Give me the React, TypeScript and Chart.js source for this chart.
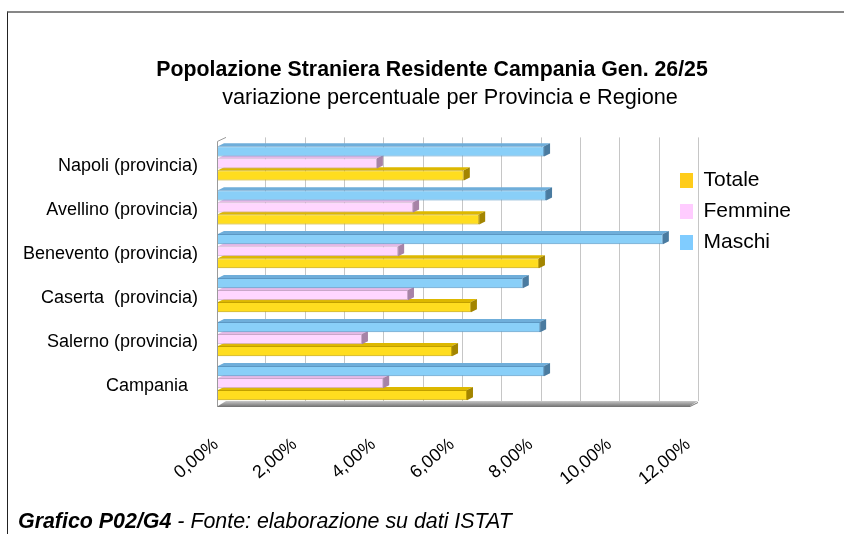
import React, { useEffect, useRef } from 'react';
import { Chart, registerables } from 'chart.js';

Chart.register(...registerables);

// ---------- data ----------
const categories = [
  'Napoli (provincia)',
  'Avellino (provincia)',
  'Benevento (provincia)',
  'Caserta  (provincia)',
  'Salerno (provincia)',
  'Campania  ',
];
const seriesNames = ['Maschi', 'Femmine', 'Totale'];
const maschi = [8.29, 8.34, 11.31, 7.75, 8.19, 8.29];
const femmine = [4.04, 4.96, 4.58, 4.83, 3.66, 4.2];
const totale = [6.25, 6.64, 8.16, 6.43, 5.95, 6.33];
const xTickValues = [0, 2, 4, 6, 8, 10, 12];
const xTickLabels = ['0,00%', '2,00%', '4,00%', '6,00%', '8,00%', '10,00%', '12,00%'];

const titleText = 'Popolazione Straniera Residente Campania Gen. 26/25';
const subtitleText = 'variazione percentuale per Provincia e Regione';
const captionBold = 'Grafico P02/G4';
const captionRest = ' - Fonte: elaborazione su dati ISTAT';

// ---------- styles ----------
const FONT = "'Liberation Sans', Arial, Helvetica, sans-serif";
const styles = [
  { front: '#89CFF8', border: '#5C98C4', top: '#6FAEDA', cap: '#4A7BA0', legend: '#80CCFF' },
  { front: '#FFD6FF', border: '#C9A6C9', top: '#E6B9E6', cap: '#A783A7', legend: '#FFCCFF' },
  { front: '#FFDD1F', border: '#C2A000', top: '#DDB800', cap: '#A38500', legend: '#FFCC1A' },
];
const WALL_DX = 8;
const WALL_DY = -4;
const BAR_DX = 6;
const BAR_DY = -3;
const TITLE_CX = 432;
const SUBTITLE_CX = 450;
const LEGEND_LEFT = 670;
const LEGEND_TOP = 160;

const threeD = {
  id: 'threeD',
  afterLayout(chart: any) {
    const tb = chart.titleBlock;
    if (tb) {
      const w = tb.right - tb.left;
      tb.left = TITLE_CX - w / 2;
      tb.right = TITLE_CX + w / 2;
      const sub = chart.boxes.find(
        (b: any) => b !== tb && b.constructor === tb.constructor
      );
      if (sub) {
        const sw = sub.right - sub.left;
        sub.left = SUBTITLE_CX - sw / 2;
        sub.right = SUBTITLE_CX + sw / 2;
      }
    }
    const lg = chart.legend;
    if (lg) {
      lg.left = LEGEND_LEFT;
      lg.right = LEGEND_LEFT + 160;
      lg.top = LEGEND_TOP;
      lg.bottom = LEGEND_TOP + 200;
    }
  },
  beforeDatasetsDraw(chart: any) {
    const { ctx, chartArea: a, scales } = chart;
    const x = scales.x;
    ctx.save();
    // floor
    const g = ctx.createLinearGradient(0, a.bottom + WALL_DY, 0, a.bottom + 1);
    g.addColorStop(0, '#c8c8c8');
    g.addColorStop(1, '#7e7e7e');
    ctx.fillStyle = g;
    ctx.beginPath();
    ctx.moveTo(a.left, a.bottom + 1);
    ctx.lineTo(a.right, a.bottom + 1);
    ctx.lineTo(a.right + WALL_DX, a.bottom + WALL_DY);
    ctx.lineTo(a.left + WALL_DX, a.bottom + WALL_DY);
    ctx.closePath();
    ctx.fill();
    ctx.strokeStyle = '#777';
    ctx.lineWidth = 1;
    ctx.beginPath();
    ctx.moveTo(a.left, a.bottom + 1.5);
    ctx.lineTo(a.right, a.bottom + 1.5);
    ctx.lineTo(a.right + WALL_DX, a.bottom + WALL_DY + 1.5);
    ctx.stroke();
    // back wall grid lines
    ctx.strokeStyle = '#c6c6c6';
    x.ticks.forEach((t: any) => {
      if (t.value === x.min) return;
      const px = Math.round(x.getPixelForValue(t.value) + WALL_DX) + 0.5;
      ctx.beginPath();
      ctx.moveTo(px, a.top + WALL_DY);
      ctx.lineTo(px, a.bottom + WALL_DY);
      ctx.stroke();
    });
    // left wall
    ctx.strokeStyle = '#9a9a9a';
    ctx.beginPath();
    ctx.moveTo(a.left + WALL_DX, a.top + WALL_DY);
    ctx.lineTo(Math.round(a.left) - 0.5, a.top);
    ctx.lineTo(Math.round(a.left) - 0.5, a.bottom + 2);
    ctx.stroke();
    ctx.restore();
  },
  afterDatasetDraw(chart: any, args: any) {
    const { ctx } = chart;
    const st = styles[args.index];
    ctx.save();
    args.meta.data.forEach((el: any) => {
      const { x, y, base, height } = el.getProps(['x', 'y', 'base', 'height'], true);
      const top = y - height / 2;
      const bottom = y + height / 2;
      ctx.fillStyle = st.top;
      ctx.beginPath();
      ctx.moveTo(base, top);
      ctx.lineTo(base + BAR_DX, top + BAR_DY);
      ctx.lineTo(x + BAR_DX, top + BAR_DY);
      ctx.lineTo(x, top);
      ctx.closePath();
      ctx.fill();
      ctx.fillStyle = st.cap;
      ctx.beginPath();
      ctx.moveTo(x, top);
      ctx.lineTo(x + BAR_DX, top + BAR_DY);
      ctx.lineTo(x + BAR_DX, bottom + BAR_DY);
      ctx.lineTo(x, bottom);
      ctx.closePath();
      ctx.fill();
    });
    ctx.restore();
  },
};

export default function App() {
  const ref = useRef<HTMLCanvasElement | null>(null);

  useEffect(() => {
    if (!ref.current) return;
    Chart.defaults.font.family = FONT;
    Chart.defaults.color = '#000';
    const values = [maschi, femmine, totale];
    const chart = new Chart(ref.current, {
      type: 'bar',
      data: {
        labels: categories,
        datasets: seriesNames.map((name, i) => ({
          label: name,
          data: values[i],
          backgroundColor: styles[i].front,
          borderColor: styles[i].border,
          borderWidth: 1,
          borderSkipped: 'start',
          categoryPercentage: 0.82,
          barPercentage: 0.85,
        })),
      },
      options: {
        indexAxis: 'y',
        animation: false,
        responsive: false,
        devicePixelRatio: 1,
        events: [],
        layout: { padding: { left: 0, right: 154, top: 0, bottom: 0 } },
        scales: {
          x: {
            type: 'linear',
            min: 0,
            max: 12,
            position: 'bottom',
            grid: { display: false, drawTicks: false },
            border: { display: false },
            ticks: {
              stepSize: 1,
              autoSkip: false,
              minRotation: 40,
              maxRotation: 40,
              padding: 29,
              labelOffset: -2,
              color: '#000',
              font: { size: 18, family: FONT },
              callback: (v: any) => {
                const i = xTickValues.indexOf(Number(v));
                return i >= 0 ? xTickLabels[i] : '';
              },
            },
            afterFit: (s: any) => {
              s.height = 129;
            },
          },
          y: {
            type: 'category',
            position: 'left',
            grid: { display: false, drawTicks: false },
            border: { display: false },
            ticks: {
              padding: 20,
              labelOffset: 3,
              color: '#000',
              font: { size: 18, family: FONT },
            },
            afterFit: (s: any) => {
              s.width = 218;
            },
          },
        },
        plugins: {
          tooltip: { enabled: false },
          title: {
            display: true,
            text: titleText,
            color: '#000',
            font: { size: 21.3, weight: 'bold', family: FONT },
            padding: { top: 57.6, bottom: 0 },
          },
          subtitle: {
            display: true,
            text: subtitleText,
            color: '#000',
            font: { size: 21.7, weight: 'normal', family: FONT },
            padding: { top: 2, bottom: 30.2 },
          },
          legend: {
            display: true,
            position: 'chartArea',
            align: 'start',
            reverse: true,
            labels: {
              boxWidth: 13,
              boxHeight: 15,
              padding: 10,
              color: '#000',
              font: { size: 21, family: FONT },
              generateLabels: (c: any) =>
                c.data.datasets.map((ds: any, i: number) => ({
                  text: ds.label,
                  fillStyle: styles[i].legend,
                  strokeStyle: styles[i].legend,
                  lineWidth: 0,
                  hidden: false,
                  datasetIndex: i,
                  fontColor: '#000',
                })),
            },
          },
        },
      },
      plugins: [threeD],
    } as any);
    return () => chart.destroy();
  }, []);

  return (
    <div
      style={{
        position: 'fixed',
        left: 0,
        top: 0,
        width: 844,
        height: 534,
        background: '#fff',
        overflow: 'hidden',
      }}
    >
      <div
        style={{
          position: 'absolute',
          left: 7,
          top: 11,
          width: 845,
          height: 530,
          borderLeft: '1px solid #222',
          borderTop: '2px solid #878787',
        }}
      />
      <canvas
        ref={ref}
        width={844}
        height={534}
        style={{ position: 'absolute', left: 0, top: 0, width: 844, height: 534 }}
      />
      <div
        style={{
          position: 'absolute',
          left: 18,
          top: 509,
          fontFamily: FONT,
          fontSize: 21.4,
          lineHeight: '24px',
          fontStyle: 'italic',
          color: '#000',
          whiteSpace: 'pre',
        }}
      >
        <b>{captionBold}</b>
        {captionRest}
      </div>
    </div>
  );
}
